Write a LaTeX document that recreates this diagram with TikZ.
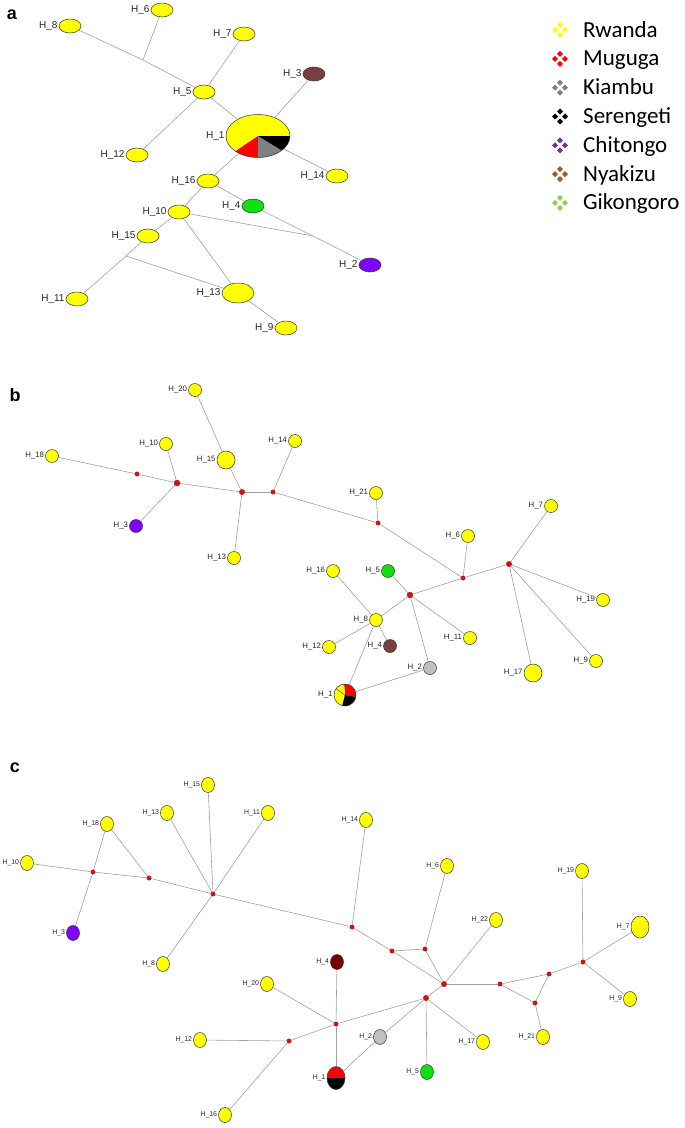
\documentclass[tikz,border=0pt]{standalone}
\usepackage{fontspec}
\usetikzlibrary{shapes.geometric}
\newfontfamily\arialf{Liberation Sans}
\newfontfamily\calf{Carlito}
\definecolor{hy}{HTML}{FFFF00}
\definecolor{hr}{HTML}{FF0000}
\definecolor{hg}{HTML}{808080}
\definecolor{hgl}{HTML}{C0C0C0}
\definecolor{hp}{HTML}{8000FF}
\definecolor{hgr}{HTML}{10E010}
\definecolor{hbr}{HTML}{7A3E3E}
\definecolor{hdr}{HTML}{7A0000}
\definecolor{lp}{HTML}{7030A0}
\definecolor{lb}{HTML}{9C5B1B}
\definecolor{lgr}{HTML}{92D050}
\definecolor{edg}{HTML}{A0A0A0}
% pie wedge: centre, x radius, y radius, from, to, colour
\newcommand{\pieslice}[6]{\fill[#6] (#1) -- ++(-#4:#2 and #3) arc[start angle=-#4, end angle=-#5, x radius=#2, y radius=#3] -- cycle;}
\newcommand{\legdia}[2]{\foreach \dx/\dy in {0/-5,-5/0,5/0,0/5} \fill[#2] ({560+\dx},{#1+\dy}) +(0,-3) -- +(3,0) -- +(0,3) -- +(-3,0) -- cycle;}
\tikzset{
  hapa/.style={ellipse,draw=black!80,line width=0.5pt,fill=hy,minimum width=22,minimum height=14,inner sep=0pt},
  hapb/.style={circle,draw=black!80,line width=0.5pt,fill=hy,minimum size=13,inner sep=0pt},
  hapc/.style={ellipse,draw=black!80,line width=0.5pt,fill=hy,minimum width=13,minimum height=15,inner sep=0pt},
  mv/.style={circle,fill=hr,draw=black!75,line width=0.3pt,minimum size=4.5,inner sep=0pt},
  lnk/.style={draw=edg,line width=0.6pt},
  hl/.style={font=\arialf\fontsize{#1}{#1}\selectfont,text=black!85,inner sep=0pt},
  panel/.style={font=\arialf\bfseries\fontsize{18}{20}\selectfont,inner sep=0pt},
  legtxt/.style={font=\calf\fontsize{23}{26}\selectfont,anchor=base west,inner sep=0pt}
}
\begin{document}
\begin{tikzpicture}[x=1pt,y=-1pt,label distance=1pt]
\useasboundingbox (0,0) rectangle (685,1128);

% panel a
\begin{scope}[every label/.style={hl=10}]
\node[panel] (pa) at (12,15) {a};
\coordinate (a1c) at (258,136);
\pieslice{a1c}{32}{21.5}{0}{225}{hy}
\pieslice{a1c}{32}{21.5}{225}{270}{hr}
\pieslice{a1c}{32}{21.5}{270}{318}{hg}
\pieslice{a1c}{32}{21.5}{318}{360}{black}
\node[hapa,fill=none,minimum width=64,minimum height=43,label=left:H\_1] (a1) at (a1c) {};
\node[hapa,fill=hp,label=left:H\_2] (a2) at (370,265) {};
\node[hapa,fill=hbr,label=left:H\_3] (a3) at (314,74) {};
\node[hapa,fill=hgr,label=left:H\_4] (a4) at (253,206) {};
\node[hapa,label=left:H\_5] (a5) at (204,92) {};
\node[hapa,label=left:H\_6] (a6) at (162,10) {};
\node[hapa,label=left:H\_7] (a7) at (244,34) {};
\node[hapa,label=left:H\_8] (a8) at (70,26) {};
\node[hapa,label=left:H\_9] (a9) at (286,328) {};
\node[hapa,label=left:H\_10] (a10) at (179,212) {};
\node[hapa,label=left:H\_11] (a11) at (77,299) {};
\node[hapa,label=left:H\_12] (a12) at (137,155) {};
\node[hapa,minimum width=32,minimum height=20,label=left:H\_13] (a13) at (238,293) {};
\node[hapa,label=left:H\_14] (a14) at (337,176) {};
\node[hapa,label=left:H\_15] (a15) at (148,236) {};
\node[hapa,label=left:H\_16] (a16) at (208,181) {};
\coordinate (ja1) at (143,60);
\coordinate (ja2) at (313,236);
\coordinate (ja3) at (126,256);
\path[lnk] (a8) edge (ja1) (ja1) edge (a5) (a6) edge (ja1);
\path[lnk] (a7) edge (a5) (a5) edge (a1) (a5) edge (a12);
\path[lnk] (a3) edge (a1) (a1) edge (a14) (a1) edge (a16);
\path[lnk] (a16) edge (a4) (a16) edge (a10);
\path[lnk] (a4) edge (ja2) (ja2) edge (a2) (a10) edge (ja2);
\path[lnk] (a10) edge (a15) (a10) edge (a13);
\path[lnk] (a15) edge (ja3) (ja3) edge (a11) (ja3) edge (a13);
\path[lnk] (a13) edge (a9);
\end{scope}

% legend
\foreach \col/\nm [count=\i] in {hy/Rwanda,hr/Muguga,hg/Kiambu,black/Serengeti,lp/Chitongo,lb/Nyakizu,lgr/Gikongoro}{
  \legdia{30+28.83*(\i-1)}{\col}
  \node[legtxt] (leg\i) at (583,{37+28.83*(\i-1)}) {\nm};
}

% panel b
\begin{scope}[every label/.style={hl=7.8}]
\node[panel] (pb) at (15,395) {b};
\coordinate (b1c) at (345,695);
\pieslice{b1c}{11}{11}{-10}{95}{hr}
\pieslice{b1c}{11}{11}{95}{145}{hy}
\pieslice{b1c}{11}{11}{145}{255}{hy}
\pieslice{b1c}{11}{11}{255}{350}{black}
\draw[black!80,line width=0.4pt] (b1c) -- ++(-145:11 and 11);
\node[hapb,fill=none,minimum size=22,label=left:H\_1] (b1) at (b1c) {};
\node[hapb,fill=hgl,label=left:H\_2] (b2) at (430,668) {};
\node[hapb,fill=hp,label=left:H\_3] (b3) at (136,526) {};
\node[hapb,fill=hbr,label=left:H\_4] (b4) at (390,646) {};
\node[hapb,fill=hgr,label=left:H\_5] (b5) at (388,571) {};
\node[hapb,label=left:H\_6] (b6) at (468,536) {};
\node[hapb,label=left:H\_7] (b7) at (551,506) {};
\node[hapb,label=left:H\_8] (b8) at (376,620) {};
\node[hapb,label=left:H\_9] (b9) at (596,661) {};
\node[hapb,label=left:H\_10] (b10) at (166,444) {};
\node[hapb,label=left:H\_11] (b11) at (470,638) {};
\node[hapb,label=left:H\_12] (b12) at (329,647) {};
\node[hapb,label=left:H\_13] (b13) at (234,558) {};
\node[hapb,label=left:H\_14] (b14) at (295,441) {};
\node[hapb,minimum size=18,label=left:H\_15] (b15) at (226,460) {};
\node[hapb,label=left:H\_16] (b16) at (333,571) {};
\node[hapb,minimum size=18,label=left:H\_17] (b17) at (533,673) {};
\node[hapb,label=left:H\_18] (b18) at (52,456) {};
\node[hapb,label=left:H\_19] (b19) at (603,600) {};
\node[hapb,label=left:H\_20] (b20) at (195,390) {};
\node[hapb,label=left:H\_21] (b21) at (376,493) {};
\node[mv] (jb1) at (137,474) {};
\node[mv,minimum size=6] (jb2) at (177,483) {};
\node[mv,minimum size=5.5] (jb3) at (242,492) {};
\node[mv] (jb4) at (273,492) {};
\node[mv] (jb5) at (378,523) {};
\node[mv] (jb6) at (463,578) {};
\node[mv,minimum size=5.5] (jb7) at (509,564) {};
\node[mv,minimum size=6] (jb8) at (410,595) {};
\path[lnk] (b18) edge (jb1) (jb1) edge (jb2) (b10) edge (jb2) (b3) edge (jb2);
\path[lnk] (jb2) edge (jb3) (b15) edge (jb3) (b20) edge (b15) (b13) edge (jb3);
\path[lnk] (jb3) edge (jb4) (b14) edge (jb4) (jb4) edge (jb5) (b21) edge (jb5);
\path[lnk] (jb5) edge (jb6) (b6) edge (jb6) (jb6) edge (jb7);
\path[lnk] (b7) edge (jb7) (b19) edge (jb7) (b9) edge (jb7) (b17) edge (jb7);
\path[lnk] (jb6) edge (jb8) (jb8) edge (b8) (b5) edge (jb8) (jb8) edge (b11) (jb8) edge (b2);
\path[lnk] (b16) edge (b8) (b8) edge (b12) (b8) edge (b4) (b8) edge (b1) (b1) edge (b2);
\end{scope}

% panel c
\begin{scope}[every label/.style={hl=6.9}]
\node[panel] (pc) at (15,768) {c};
\coordinate (c1c) at (336,1078);
\pieslice{c1c}{9}{11.5}{0}{180}{hr}
\pieslice{c1c}{9}{11.5}{180}{360}{black}
\node[hapc,fill=none,minimum width=18,minimum height=23,label=left:H\_1] (c1) at (c1c) {};
\node[hapc,fill=hgl,label=left:H\_2] (c2) at (380,1037) {};
\node[hapc,fill=hp,label=left:H\_3] (c3) at (73,933) {};
\node[hapc,fill=hdr,label=left:H\_4] (c4) at (337,962) {};
\node[hapc,fill=hgr,label=left:H\_5] (c5) at (427,1072) {};
\node[hapc,label=left:H\_6] (c6) at (447,866) {};
\node[hapc,minimum width=18,minimum height=22,label=left:H\_7] (c7) at (640,927) {};
\node[hapc,label=left:H\_8] (c8) at (163,964) {};
\node[hapc,label=left:H\_9] (c9) at (630,999) {};
\node[hapc,label=left:H\_10] (c10) at (27,863) {};
\node[hapc,label=left:H\_11] (c11) at (268,813) {};
\node[hapc,label=left:H\_12] (c12) at (200,1040) {};
\node[hapc,label=left:H\_13] (c13) at (167,813) {};
\node[hapc,label=left:H\_14] (c14) at (366,820) {};
\node[hapc,label=left:H\_15] (c15) at (208,785) {};
\node[hapc,label=left:H\_16] (c16) at (225,1115) {};
\node[hapc,label=left:H\_17] (c17) at (483,1042) {};
\node[hapc,label=left:H\_18] (c18) at (107,824) {};
\node[hapc,label=left:H\_19] (c19) at (582,871) {};
\node[hapc,label=left:H\_20] (c20) at (267,984) {};
\node[hapc,label=left:H\_21] (c21) at (543,1037) {};
\node[hapc,label=left:H\_22] (c22) at (496,920) {};
\node[mv] (jc1) at (93,872) {};
\node[mv] (jc2) at (149,878) {};
\node[mv] (jc3) at (213,894) {};
\node[mv] (jc4) at (352,927) {};
\node[mv] (jc5) at (392,951) {};
\node[mv] (jc6) at (425,949) {};
\node[mv,minimum size=5.5] (jc7) at (444,984) {};
\node[mv] (jc8) at (500,984) {};
\node[mv] (jc9) at (549,974) {};
\node[mv] (jc10) at (583,962) {};
\node[mv] (jc11) at (535,1003) {};
\node[mv,minimum size=5.5] (jc12) at (426,998) {};
\node[mv] (jc13) at (336,1024) {};
\node[mv] (jc14) at (289,1041) {};
\path[lnk] (c10) edge (jc1) (jc1) edge (jc2) (jc2) edge (jc3);
\path[lnk] (c18) edge (jc1) (jc1) edge (c3) (c18) edge (jc2);
\path[lnk] (c13) edge (jc3) (c15) edge (jc3) (c11) edge (jc3) (c8) edge (jc3);
\path[lnk] (jc3) edge (jc4) (c14) edge (jc4) (jc4) edge (jc5) (jc5) edge (jc7);
\path[lnk] (jc5) edge (jc6) (c6) edge (jc6) (jc6) edge (jc7) (c22) edge (jc7);
\path[lnk] (jc7) edge (jc8) (jc8) edge (jc9) (jc8) edge (jc11) (jc9) edge (jc11);
\path[lnk] (jc9) edge (jc10) (c19) edge (jc10) (c7) edge (jc10) (c9) edge (jc10) (jc11) edge (c21);
\path[lnk] (jc7) edge (jc12) (jc12) edge (jc13) (jc12) edge (c2) (jc12) edge (c5) (jc12) edge (c17);
\path[lnk] (jc13) edge (c4) (jc13) edge (c1) (jc13) edge (c20) (jc13) edge (jc14);
\path[lnk] (jc14) edge (c12) (jc14) edge (c16) (c1) edge (c2);
\end{scope}
\end{tikzpicture}
\end{document}
